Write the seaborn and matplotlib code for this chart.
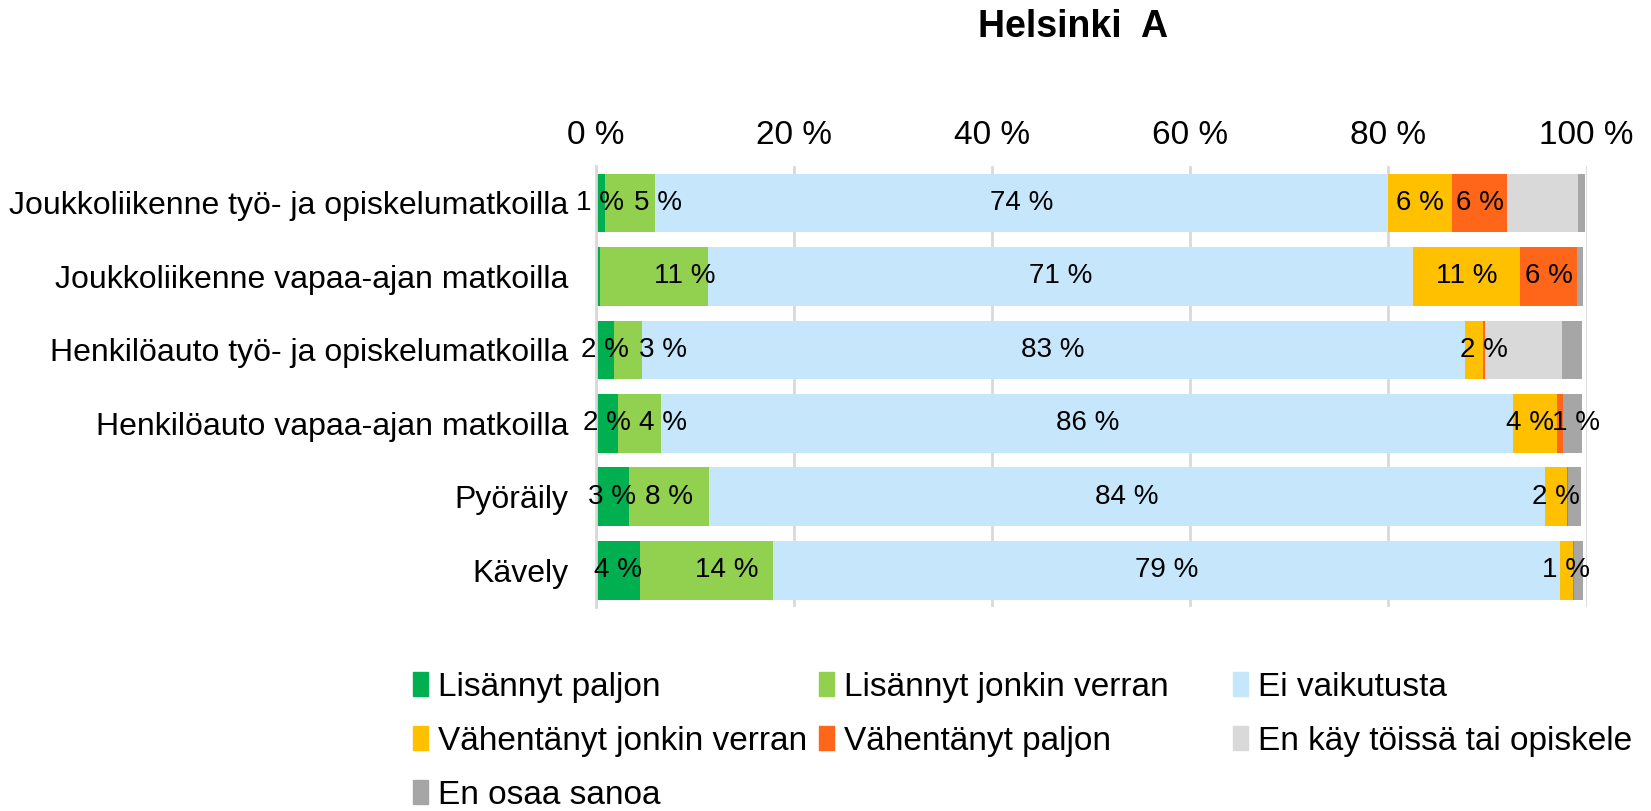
import numpy as np
import pandas as pd
import matplotlib
matplotlib.use("Agg")
import matplotlib.pyplot as plt
import matplotlib.patches as mpatches
import seaborn as sns

categories = [
    "Joukkoliikenne työ- ja opiskelumatkoilla",
    "Joukkoliikenne vapaa-ajan matkoilla",
    "Henkilöauto työ- ja opiskelumatkoilla",
    "Henkilöauto vapaa-ajan matkoilla",
    "Pyöräily",
    "Kävely",
]
series = [
    "Lisännyt paljon",
    "Lisännyt jonkin verran",
    "Ei vaikutusta",
    "Vähentänyt jonkin verran",
    "Vähentänyt paljon",
    "En käy töissä tai opiskele",
    "En osaa sanoa",
]
lisannyt_paljon = [0.9, 0.4, 1.8, 2.2, 3.3, 4.4]
lisannyt_jonkin = [5.1, 10.9, 2.8, 4.4, 8.1, 13.5]
ei_vaikutusta = [74.0, 71.2, 83.1, 86.0, 84.4, 79.4]
vahentanyt_jonkin = [6.4, 10.8, 1.8, 4.4, 2.2, 1.3]
vahentanyt_paljon = [5.6, 5.7, 0.2, 0.6, 0.1, 0.1]
en_kay = [7.1, 0.0, 7.8, 0.0, 0.0, 0.0]
en_osaa = [0.7, 0.6, 2.0, 1.9, 1.3, 0.9]
labelled = [True, True, True, True, True, False, False]

colors = ["#00b050", "#92d050", "#c5e6fb", "#ffc000", "#ff661a", "#d9d9d9", "#a6a6a6"]
xticks = [0, 20, 40, 60, 80, 100]

# label nudges (series, row) -> shift in x units, as placed in the original
nudge = {(1, 0): 2.8, (1, 1): 3.1, (1, 2): 3.6, (1, 3): 2.4, (1, 5): 2.0,
         (3, 2): 1.0, (3, 3): -0.5, (4, 3): 1.6}

values = np.array([lisannyt_paljon, lisannyt_jonkin, ei_vaikutusta,
                   vahentanyt_jonkin, vahentanyt_paljon, en_kay, en_osaa])
cum = values.cumsum(axis=0)

sns.set_style("white")
plt.rcParams["font.family"] = ["Liberation Sans", "DejaVu Sans"]
plt.rcParams["text.color"] = "black"
plt.rcParams["xtick.color"] = "black"
plt.rcParams["ytick.color"] = "black"

fig = plt.figure(figsize=(16.51, 8.11), dpi=100)
ax = fig.add_axes([0.361, 0.2515, 0.600, 0.5435])

# stacked bars: draw cumulative totals from the outermost layer inwards
for i in range(len(series) - 1, -1, -1):
    df = pd.DataFrame({"cat": categories, "val": cum[i]})
    sns.barplot(data=df, x="val", y="cat", orient="h", color=colors[i],
                saturation=1, width=0.8, ax=ax, linewidth=0, zorder=2)

for i in range(len(series)):
    if not labelled[i]:
        continue
    for j in range(len(categories)):
        v = values[i, j]
        if round(v) < 1:
            continue
        x = cum[i, j] - v / 2 + nudge.get((i, j), 0)
        ax.text(x, j, f"{round(v):.0f} %", ha="center", va="center",
                fontsize=20, color="black", zorder=5)

ax.set_xlim(0, 100)
ax.set_ylim(5.5, -0.5)
ax.set_xticks(xticks)
ax.set_xticklabels([f"{t} %" for t in xticks])
ax.xaxis.tick_top()
ax.tick_params(axis="x", length=0, labelsize=24, pad=11, labelcolor="black")
ax.tick_params(axis="y", length=0, labelsize=23, pad=20, labelcolor="black")
ax.set_xlabel("")
ax.set_ylabel("")
ax.grid(axis="x", color="#d9d9d9", linewidth=2, zorder=0)
ax.set_axisbelow(True)
for s in ["top", "right", "bottom"]:
    ax.spines[s].set_visible(False)
ax.spines["left"].set_color("#d9d9d9")
ax.spines["left"].set_linewidth(2)

fig.text(0.650, 0.967, "Helsinki  A", ha="center", va="center", fontsize=27,
         fontweight="bold", color="black")

handles = [mpatches.Patch(color=c) for c in colors]
col_x = [0.250, 0.496, 0.747]
groups = [[0, 3, 6], [1, 4], [2, 5]]
for cx, g in zip(col_x, groups):
    fig.legend([handles[k] for k in g], [series[k] for k in g], loc="upper left",
               bbox_to_anchor=(cx, 0.172), frameon=False, fontsize=24,
               handlelength=0.45, handleheight=0.75, handletextpad=0.3,
               labelspacing=0.69, borderaxespad=0, borderpad=0, labelcolor="black")

fig.savefig("out.png", dpi=100)
